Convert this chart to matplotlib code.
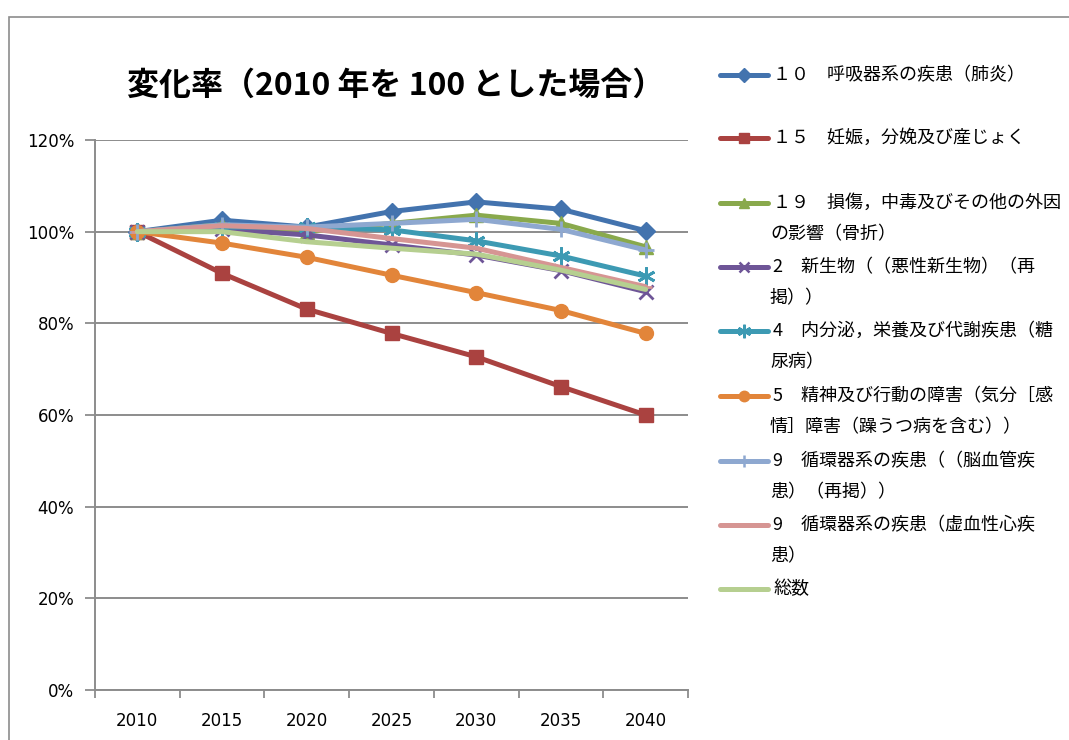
import matplotlib.pyplot as plt
from matplotlib.lines import Line2D
from matplotlib.patches import Rectangle
from matplotlib.ticker import FixedLocator

plt.rcParams['font.family'] = ['Noto Sans CJK JP', 'DejaVu Sans']

years = ['2010', '2015', '2020', '2025', '2030', '2035', '2040']

resp = [100, 102.5, 101.0, 104.4, 106.5, 104.9, 100.2]
preg = [100, 90.9, 83.1, 77.8, 72.7, 66.2, 60.0]
injury = [100, 101.5, 100.0, 101.8, 103.6, 101.8, 96.7]
neo = [100, 100.5, 99.3, 97.1, 94.9, 91.5, 86.9]
endo = [100, 101.0, 101.0, 100.4, 98.0, 94.7, 90.3]
mental = [100, 97.5, 94.4, 90.5, 86.7, 82.8, 77.8]
cereb = [100, 101.5, 101.0, 101.8, 102.7, 100.5, 96.0]
ischem = [100, 101.3, 100.7, 98.5, 96.4, 92.2, 88.0]
total = [100, 100.0, 97.8, 96.4, 95.1, 91.6, 87.4]

labels = [
    '１０　呼吸器系の疾患（肺炎）',
    '１５　妊娠，分娩及び産じょく',
    '１９　損傷，中毒及びその他の外因\nの影響（骨折）',
    '2　新生物（（悪性新生物）（再\n掲））',
    '4　内分泌，栄養及び代謝疾患（糖\n尿病）',
    '5　精神及び行動の障害（気分［感\n情］障害（躁うつ病を含む））',
    '9　循環器系の疾患（（脳血管疾\n患）（再掲））',
    '9　循環器系の疾患（虚血性心疾\n患）',
    '総数',
]

series = [resp, preg, injury, neo, endo, mental, cereb, ischem, total]
colors = ['#4373AE', '#AA4240', '#89A94C', '#6E5597', '#3D9AB3',
          '#E2853A', '#8EA8D0', '#D69593', '#B6CF90']
markers = ['D', 's', '^', 'x', (6, 2, 0), 'o', '+', '_', None]
msizes = [9, 10, 10, 10, 13, 10, 11, 9, 0]
thin = ('x', '+', '_', (6, 2, 0))

fig = plt.figure(figsize=(10.69, 7.4), dpi=100)
W, H = 1069, 740

# chart frame
fig.add_artist(Rectangle((9 / W, -0.1), 1.2, 1 - 17 / H + 0.1, transform=fig.transFigure,
                         fill=False, edgecolor='#8c8c8c', lw=1.2))

ax = fig.add_axes([95 / W, 1 - 690 / H, (688 - 95) / W, (690 - 140) / H])
x = list(range(len(years)))
for ys, c, m, ms in zip(series, colors, markers, msizes):
    ax.plot(x, ys, color=c, lw=3.6, marker=m, markersize=ms,
            markeredgewidth=2.0 if m in thin else 1,
            markeredgecolor=c, markerfacecolor=c, solid_capstyle='round')

ax.set_xlim(-0.5, 6.5)
ax.set_ylim(0, 120)
ax.set_yticks(range(0, 121, 20))
ax.set_yticklabels([f'{v}%' for v in range(0, 121, 20)], family='DejaVu Sans', fontsize=12)
ax.set_xticks(x)
ax.set_xticklabels(years, family='DejaVu Sans', fontsize=12)
ax.xaxis.set_minor_locator(FixedLocator([i - 0.5 for i in range(8)]))
ax.tick_params(axis='x', which='major', length=0, pad=16)
ax.tick_params(axis='x', which='minor', length=6, width=1.3, color='#8c8c8c')
ax.tick_params(axis='y', length=7, width=1.3, color='#8c8c8c', pad=8)
ax.grid(axis='y', color='#8c8c8c', lw=1.4)
ax.set_axisbelow(True)
for s in ['top', 'right']:
    ax.spines[s].set_visible(False)
for s in ['left', 'bottom']:
    ax.spines[s].set_color('#8c8c8c')
    ax.spines[s].set_linewidth(1.4)

fig.text(396 / W, 1 - 86 / H, '変化率（2010 年を 100 とした場合）', ha='center', va='center',
         fontsize=23, fontweight='bold')

# legend
first_y = [75, 138, 203, 267, 331, 396, 461, 525, 589]
for lab, c, m, ms, yp in zip(labels, colors, markers, msizes, first_y):
    yf = 1 - yp / H
    fig.add_artist(Line2D([720 / W, 768 / W], [yf, yf], transform=fig.transFigure,
                          color=c, lw=3.6, solid_capstyle='round'))
    if m is not None:
        fig.add_artist(Line2D([744 / W], [yf], transform=fig.transFigure, color=c,
                              marker=m, markersize=ms * 0.75, markeredgecolor=c,
                              markeredgewidth=1.8 if m in thin else 1))
    parts = lab.split('\n')
    fig.text(773 / W, yf, parts[0], ha='left', va='center', fontsize=13)
    if len(parts) > 1:
        fig.text(770 / W, yf - 31 / H, parts[1], ha='left', va='center', fontsize=13)

fig.savefig('out.png', dpi=100)
